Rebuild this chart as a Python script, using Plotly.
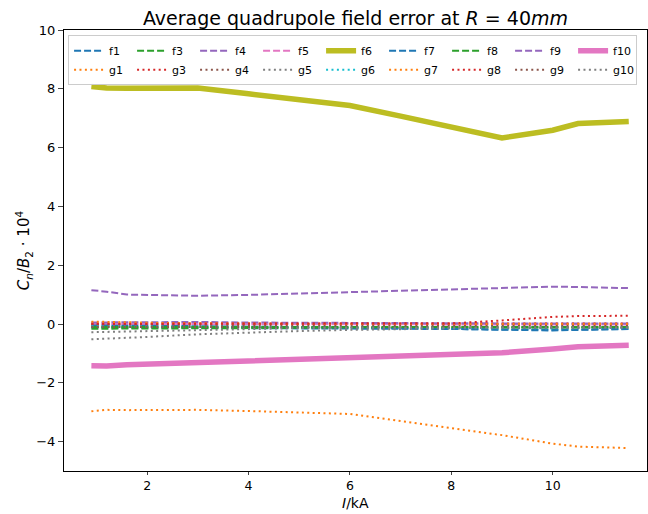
import plotly.graph_objects as go

current = [0.9, 1.2, 1.6, 2, 3, 4, 5, 6, 7, 8, 9, 10, 10.5, 11.5]

f1 = [-0.12, -0.12, -0.13, -0.13, -0.14, -0.14, -0.15, -0.15, -0.16, -0.17, -0.19, -0.20, -0.19, -0.17]
f3 = [-0.16, -0.16, -0.16, -0.15, -0.15, -0.14, -0.13, -0.12, -0.12, -0.12, -0.12, -0.12, -0.12, -0.12]
f4 = [1.15, 1.10, 1.00, 0.99, 0.96, 0.99, 1.04, 1.08, 1.13, 1.18, 1.24, 1.27, 1.26, 1.22]
f5 = [0.00, 0.00, 0.00, 0.00, -0.01, -0.01, -0.01, -0.02, -0.02, -0.02, -0.02, -0.02, -0.02, -0.02]
f6 = [8.08, 8.03, 8.02, 8.02, 8.03, 7.83, 7.63, 7.43, 7.07, 6.70, 6.33, 6.59, 6.82, 6.89]
f7 = [-0.05, -0.06, -0.06, -0.06, -0.07, -0.08, -0.10, -0.12, -0.14, -0.17, -0.20, -0.22, -0.20, -0.17]
f8 = [-0.10, -0.10, -0.10, -0.10, -0.10, -0.10, -0.10, -0.10, -0.10, -0.10, -0.10, -0.10, -0.10, -0.10]
f9 = [0.05, 0.06, 0.06, 0.06, 0.07, 0.05, 0.04, 0.03, 0.03, 0.03, 0.02, 0.02, 0.02, 0.02]
f10 = [-1.42, -1.43, -1.39, -1.37, -1.31, -1.26, -1.21, -1.16, -1.10, -1.04, -0.98, -0.85, -0.77, -0.72]

g1 = [-2.97, -2.92, -2.93, -2.93, -2.92, -2.96, -3.00, -3.06, -3.30, -3.55, -3.78, -4.07, -4.17, -4.22]
g3 = [0.02, 0.02, 0.02, 0.02, 0.02, 0.02, 0.02, 0.02, 0.02, 0.02, 0.02, 0.02, 0.02, 0.02]
g4 = [-0.03, -0.03, -0.03, -0.03, -0.03, -0.04, -0.04, -0.04, -0.04, -0.05, -0.05, -0.05, -0.05, -0.05]
g5 = [-0.52, -0.50, -0.47, -0.44, -0.35, -0.29, -0.24, -0.20, -0.17, -0.15, -0.13, -0.12, -0.12, -0.12]
g6 = [-0.08, -0.08, -0.08, -0.08, -0.09, -0.10, -0.11, -0.12, -0.13, -0.14, -0.15, -0.15, -0.14, -0.13]
g7 = [0.08, 0.08, 0.06, 0.04, 0.02, 0.01, 0.00, 0.00, 0.00, 0.00, 0.00, 0.00, 0.00, 0.00]
g8 = [0.00, 0.00, 0.00, 0.00, 0.00, 0.00, 0.00, 0.00, 0.00, 0.02, 0.12, 0.24, 0.27, 0.28]
g9 = [-0.10, -0.10, -0.10, -0.10, -0.10, -0.10, -0.10, -0.10, -0.11, -0.11, -0.12, -0.12, -0.12, -0.12]
g10 = [-0.28, -0.27, -0.25, -0.23, -0.19, -0.16, -0.14, -0.13, -0.12, -0.12, -0.12, -0.12, -0.12, -0.12]

BLUE, ORANGE, GREEN, RED, PURPLE = "#1f77b4", "#ff7f0e", "#2ca02c", "#d62728", "#9467bd"
BROWN, PINK, GRAY, OLIVE, CYAN = "#8c564b", "#e377c2", "#7f7f7f", "#bcbd22", "#17becf"

DASH = "7px,3px"
DOT = "2px,3.4px"

series = [
    ("f1", f1, BLUE, DASH, 2),
    ("f3", f3, GREEN, DASH, 2),
    ("f4", f4, PURPLE, DASH, 2),
    ("f5", f5, PINK, DASH, 2),
    ("f6", f6, OLIVE, "solid", 5.5),
    ("f7", f7, BLUE, DASH, 2),
    ("f8", f8, GREEN, DASH, 2),
    ("f9", f9, PURPLE, DASH, 2),
    ("f10", f10, PINK, "solid", 5.5),
    ("g1", g1, ORANGE, DOT, 2),
    ("g3", g3, RED, DOT, 2),
    ("g4", g4, BROWN, DOT, 2),
    ("g5", g5, GRAY, DOT, 2),
    ("g6", g6, CYAN, DOT, 2),
    ("g7", g7, ORANGE, DOT, 2),
    ("g8", g8, RED, DOT, 2),
    ("g9", g9, BROWN, DOT, 2),
    ("g10", g10, GRAY, DOT, 2),
]

fig = go.Figure()
for name, ys, color, dash, width in series:
    fig.add_trace(go.Scatter(
        x=current, y=ys, name=name, mode="lines",
        line=dict(color=color, dash=dash, width=width),
    ))

FONT = "DejaVu Sans"
BOTTOM = 43
PLOT_H = 514 - 30 - BOTTOM
fig.update_layout(
    width=648, height=514,
    margin=dict(l=64, r=1, t=30, b=BOTTOM),
    paper_bgcolor="white", plot_bgcolor="white",
    font=dict(family=FONT, size=13, color="black"),
    title=dict(text="Average quadrupole field error at <i>R</i> = 40<i>mm</i>",
               x=(64 + 647) / 2 / 648, xanchor="center", y=1 - 18 / 514, yanchor="middle",
               font=dict(size=19, family=FONT)),
    showlegend=True,
    legend=dict(orientation="h", x=0.007, xanchor="left", y=0.988, yanchor="top",
                entrywidth=18, entrywidthmode="pixels",
                bgcolor="rgba(255,255,255,0.8)", bordercolor="#cccccc", borderwidth=1,
                font=dict(size=11, family=FONT), tracegroupgap=0, itemwidth=30),
    xaxis=dict(range=[0.36, 11.86], tickvals=[2, 4, 6, 8, 10], ticks="outside", ticklen=3,
               showline=True, linecolor="black", linewidth=1, mirror=True, showgrid=False,
               zeroline=False, automargin=False, tickfont=dict(size=12.5)),
    yaxis=dict(range=[-5, 10], tickvals=[-4, -2, 0, 2, 4, 6, 8, 10], ticks="outside", ticklen=5,
               showline=True, linecolor="black", linewidth=1, mirror=True, showgrid=False,
               zeroline=False, automargin=False,
               title=dict(text="<i>C<sub>n</sub></i>/<i>B</i><sub>2</sub> · 10<sup>4</sup>",
                          standoff=2, font=dict(size=15))),
    annotations=[dict(text="<i>I</i>/kA", xref="paper", yref="paper", x=0.5,
                      y=-(BOTTOM - 1) / PLOT_H,
                      xanchor="center", yanchor="bottom", showarrow=False,
                      font=dict(size=14, family=FONT))],
)

fig.write_html("out.html")
